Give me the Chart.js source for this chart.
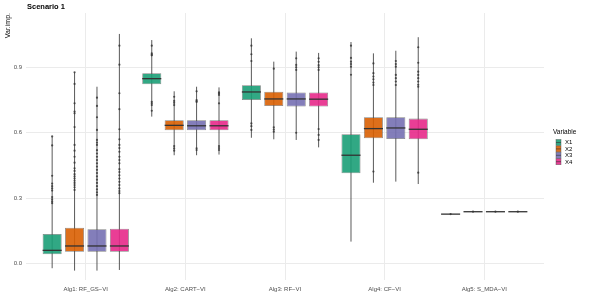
<!DOCTYPE html>
<html>
<head>
<meta charset="utf-8">
<script src="https://cdn.jsdelivr.net/npm/chart.js@4/dist/chart.umd.min.js"></script>
<style>
	html, body { margin: 0; padding: 0; background: #fff; }
	canvas { display: block; }
</style>
</head>
<body>
<canvas id="boxChart" width="592" height="296"></canvas>
<script>
"use strict";

const algorithms = ["Alg1: RF_GS\u2212VI", "Alg2: CART\u2212VI", "Alg3: RF\u2212VI", "Alg4: CF\u2212VI", "Alg5: S_MDA\u2212VI"];
const variables = ["X1", "X2", "X3", "X4"];
const colors = ["rgba(27,158,119,0.9)", "rgba(217,95,2,0.9)", "rgba(117,112,179,0.9)", "rgba(231,41,138,0.9)"];
const yTicks = [0, 0.3, 0.6, 0.9];

// one row per variable, one column per algorithm
const whiskerLow = [
	[-0.021, 0.674, 0.577, 0.101, 0.227],
	[-0.032, 0.497, 0.570, 0.371, 0.238],
	[-0.032, 0.497, 0.567, 0.376, 0.238],
	[-0.029, 0.500, 0.533, 0.365, 0.238]
];
const q1 = [
	[0.043, 0.822, 0.750, 0.414, 0.2265],
	[0.054, 0.611, 0.723, 0.575, 0.2375],
	[0.054, 0.611, 0.720, 0.571, 0.2375],
	[0.054, 0.611, 0.720, 0.570, 0.2375]
];
const medians = [
	[0.061, 0.848, 0.787, 0.497, 0.227],
	[0.081, 0.634, 0.755, 0.619, 0.238],
	[0.081, 0.632, 0.755, 0.622, 0.238],
	[0.081, 0.632, 0.754, 0.616, 0.238]
];
const q3 = [
	[0.136, 0.873, 0.818, 0.593, 0.2275],
	[0.165, 0.657, 0.788, 0.671, 0.2385],
	[0.158, 0.657, 0.785, 0.671, 0.2385],
	[0.160, 0.657, 0.785, 0.665, 0.2385]
];
const whiskerHigh = [
	[0.583, 1.025, 1.033, 1.016, 0.227],
	[0.877, 0.790, 0.926, 0.964, 0.238],
	[0.811, 0.811, 0.972, 0.976, 0.238],
	[1.053, 0.808, 0.966, 1.038, 0.238]
];
const outliers = [
	[
		[0.583, 0.542, 0.403, 0.367, 0.355, 0.345, 0.335, 0.305, 0.295, 0.285, 0.277],
		[0.999, 0.964, 0.958, 0.955, 0.742, 0.735, 0.727, 0.701],
		[0.999, 0.960, 0.929, 0.643, 0.630, 0.613],
		[0.999, 0.943, 0.926, 0.915, 0.903, 0.866],
		[0.227]
	],
	[
		[0.877, 0.824, 0.735, 0.697, 0.689, 0.626, 0.544, 0.518, 0.490, 0.463, 0.437, 0.425, 0.410, 0.400, 0.390, 0.380, 0.370, 0.360, 0.350, 0.338],
		[0.765, 0.746, 0.737, 0.727, 0.539, 0.528, 0.518],
		[0.894, 0.625, 0.615, 0.605],
		[0.918, 0.873, 0.858, 0.845, 0.830, 0.819, 0.422],
		[0.238]
	],
	[
		[0.761, 0.723, 0.671, 0.613, 0.567, 0.555, 0.544, 0.520, 0.505, 0.490, 0.475, 0.460, 0.445, 0.430, 0.415, 0.400, 0.385, 0.370, 0.355, 0.340, 0.327, 0.315],
		[0.790, 0.750, 0.745, 0.741, 0.529, 0.521],
		[0.941, 0.911, 0.900, 0.888, 0.600],
		[0.929, 0.915, 0.903, 0.865, 0.850, 0.835, 0.819],
		[0.238]
	],
	[
		[0.999, 0.912, 0.781, 0.708, 0.616, 0.570, 0.544, 0.530, 0.513, 0.490, 0.475, 0.460, 0.433, 0.420, 0.405, 0.390, 0.375, 0.360, 0.345, 0.333, 0.323],
		[0.785, 0.779, 0.773, 0.735, 0.539, 0.530, 0.521],
		[0.941, 0.925, 0.910, 0.900, 0.888, 0.617, 0.590, 0.567],
		[0.992, 0.921, 0.880, 0.865, 0.850, 0.835, 0.820, 0.811, 0.417],
		[0.238]
	]
];

const FONT = "'Liberation Sans', Arial, sans-serif";

const boxPlot = {
	id: "boxPlot",
	beforeDatasetsDraw(chart) {
		const ctx = chart.ctx;
		const y = chart.scales.y;
		ctx.save();
		chart.data.datasets.forEach((ds, v) => {
			chart.getDatasetMeta(v).data.forEach((bar, i) => {
				// whisker
				ctx.strokeStyle = "rgba(60,60,60,0.85)";
				ctx.lineWidth = 1;
				ctx.beginPath();
				ctx.moveTo(bar.x, y.getPixelForValue(whiskerLow[v][i]));
				ctx.lineTo(bar.x, y.getPixelForValue(whiskerHigh[v][i]));
				ctx.stroke();
				// outlier points
				ctx.fillStyle = "rgba(50,50,50,0.8)";
				outliers[v][i].forEach(o => {
					ctx.beginPath();
					ctx.arc(bar.x, y.getPixelForValue(o), 1.1, 0, Math.PI * 2);
					ctx.fill();
				});
			});
		});
		ctx.restore();
	},
	afterDatasetsDraw(chart) {
		const ctx = chart.ctx;
		const y = chart.scales.y;
		ctx.save();
		ctx.strokeStyle = "#333";
		ctx.lineWidth = 1.3;
		chart.data.datasets.forEach((ds, v) => {
			chart.getDatasetMeta(v).data.forEach((bar, i) => {
				const py = y.getPixelForValue(medians[v][i]);
				ctx.beginPath();
				ctx.moveTo(bar.x - bar.width / 2, py);
				ctx.lineTo(bar.x + bar.width / 2, py);
				ctx.stroke();
			});
		});
		ctx.restore();
	},
	afterDraw(chart) {
		const ctx = chart.ctx;
		ctx.save();
		// title
		ctx.fillStyle = "#000";
		ctx.font = "bold 7.5px " + FONT;
		ctx.textAlign = "left";
		ctx.textBaseline = "middle";
		ctx.fillText("Scenario 1", 27, 7);
		// y axis title
		ctx.save();
		ctx.translate(8, 13);
		ctx.rotate(-Math.PI / 2);
		ctx.font = "7px " + FONT;
		ctx.textAlign = "right";
		ctx.fillText("Var.imp.", 0, 0);
		ctx.restore();
		// legend
		ctx.font = "6.5px " + FONT;
		ctx.fillText("Variable", 553, 132);
		ctx.font = "6px " + FONT;
		variables.forEach((name, v) => {
			const top = 139.5 + v * 6.4;
			ctx.fillStyle = colors[v];
			ctx.fillRect(556, top, 5, 6);
			ctx.strokeStyle = "rgba(77,77,77,0.7)";
			ctx.lineWidth = 0.6;
			ctx.strokeRect(556, top, 5, 6);
			ctx.strokeStyle = "#333";
			ctx.beginPath();
			ctx.moveTo(556, top + 3);
			ctx.lineTo(561, top + 3);
			ctx.stroke();
			ctx.fillStyle = "#000";
			ctx.fillText(name, 565, top + 3.2);
		});
		ctx.restore();
	}
};

const datasets = variables.map((name, v) => ({
	label: name,
	data: algorithms.map((a, i) => ({ x: i + 1, y: [q1[v][i], q3[v][i]] })),
	backgroundColor: colors[v],
	borderColor: "rgba(77,77,77,0.7)",
	borderWidth: 0.8,
	borderSkipped: false,
	categoryPercentage: 0.9,
	barPercentage: 0.85
}));

new Chart(document.querySelector("#boxChart").getContext("2d"), {
	type: "bar",
	data: { datasets: datasets },
	plugins: [boxPlot],
	options: {
		responsive: false,
		animation: false,
		devicePixelRatio: 1,
		layout: { padding: { top: 13, right: 48, left: 0, bottom: 0 } },
		plugins: { legend: { display: false }, tooltip: { enabled: false } },
		scales: {
			x: {
				type: "linear",
				offset: false,
				min: 0.4,
				max: 5.6,
				afterBuildTicks(axis) {
					axis.ticks = algorithms.map((a, i) => ({ value: i + 1 }));
				},
				afterFit(axis) { axis.height = 16; },
				grid: { color: "#EBEBEB", lineWidth: 1, drawTicks: false, offset: false },
				border: { display: false },
				ticks: {
					autoSkip: false,
					maxRotation: 0,
					padding: 6,
					color: "#4D4D4D",
					font: { family: FONT, size: 6 },
					callback: value => algorithms[value - 1]
				}
			},
			y: {
				min: -0.075,
				max: 1.149,
				afterBuildTicks(axis) {
					axis.ticks = yTicks.map(v => ({ value: v }));
				},
				afterFit(axis) { axis.width = 26; },
				grid: { color: "#EBEBEB", lineWidth: 1, drawTicks: false },
				border: { display: false },
				ticks: {
					padding: 4,
					color: "#4D4D4D",
					font: { family: FONT, size: 6 },
					callback: value => value.toFixed(1)
				}
			}
		}
	}
});
</script>
</body>
</html>
